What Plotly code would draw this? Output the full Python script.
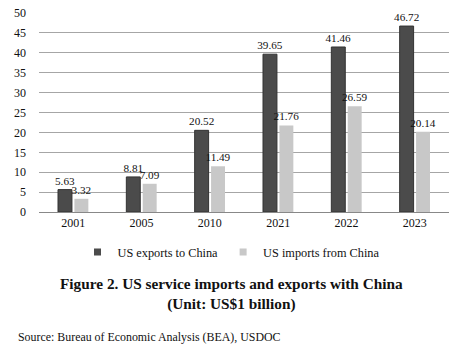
import plotly.graph_objects as go

years = ["2001", "2005", "2010", "2021", "2022", "2023"]
exports = [5.63, 8.81, 20.52, 39.65, 41.46, 46.72]
imports = [3.32, 7.09, 11.49, 21.76, 26.59, 20.14]
export_labels = ["5.63", "8.81", "20.52", "39.65", "41.46", "46.72"]
import_labels = ["3.32", "7.09", "11.49", "21.76", "26.59", "20.14"]
y_ticks = [0, 5, 10, 15, 20, 25, 30, 35, 40, 45, 50]

FONT = "Liberation Serif"
W, H = 462, 354
L, R, T, B = 39, 13, 13, 142
PW, PH = W - L - R, H - T - B
DARK, LIGHT = "#4b4b4b", "#c8c8c8"


def px_x(x):
    return (x - L) / PW


def px_y(y):
    return (H - B - y) / PH


fig = go.Figure()
fig.add_trace(go.Bar(
    x=years, y=exports, name="US exports to China", showlegend=False,
    marker=dict(color=DARK, line=dict(color="#333333", width=1)),
    text=export_labels, textposition="outside", constraintext="none",
    textfont=dict(family=FONT, size=11.2, color="#111111"),
    cliponaxis=False,
))
fig.add_trace(go.Bar(
    x=years, y=imports, name="US imports from China", showlegend=False,
    marker=dict(color=LIGHT, line=dict(color=LIGHT, width=0)),
    text=import_labels, textposition="outside", constraintext="none",
    textfont=dict(family=FONT, size=11.2, color="#111111"),
    cliponaxis=False,
))
# legend entries with small square symbols
for name, col in [("US exports to China", DARK), ("US imports from China", LIGHT)]:
    fig.add_trace(go.Scatter(
        x=[None], y=[None], mode="markers", name=name,
        marker=dict(symbol="square", size=7, color=col),
    ))

fig.update_layout(
    width=W, height=H,
    margin=dict(l=L, r=R, t=T, b=B, autoexpand=False),
    paper_bgcolor="white", plot_bgcolor="white",
    font=dict(family=FONT, size=12, color="#111111"),
    barmode="group", bargap=0.52, bargroupgap=0.15,
    showlegend=True,
    legend=dict(
        orientation="h", xref="container", yref="container",
        x=0.5, xanchor="center", y=1 - 252 / H, yanchor="middle",
        font=dict(family=FONT, size=12.3, color="#111111"),
        itemwidth=30,
    ),
    xaxis=dict(
        showline=True, linecolor="#888888", linewidth=1,
        tickfont=dict(family=FONT, size=12, color="#111111"),
        showgrid=False, ticks="",
    ),
    yaxis=dict(
        range=[0, 50], tickvals=y_ticks,
        showgrid=True, gridcolor="#a6a6a6", gridwidth=1,
        zeroline=False, showline=False,
        tickfont=dict(family=FONT, size=12, color="#111111"),
        ticks="", ticklabelstandoff=12,
    ),
    annotations=[
        dict(text="<b>Figure 2. US service imports and exports with China</b><br><b>(Unit: US$1 billion)</b>",
             xref="paper", yref="paper", x=px_x(W / 2), xanchor="center",
             y=px_y(294), yanchor="middle", showarrow=False,
             font=dict(family=FONT, size=15.3, color="#111111"), align="center"),
        dict(text="Source: Bureau of Economic Analysis (BEA), USDOC",
             xref="paper", yref="paper", x=px_x(16), xanchor="left",
             y=px_y(337), yanchor="middle", showarrow=False,
             font=dict(family=FONT, size=11.9, color="#111111")),
    ],
)

fig.write_html("out.html")
